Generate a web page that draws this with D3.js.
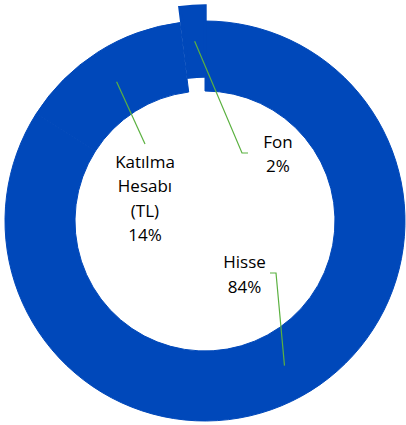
<!DOCTYPE html>
<html>
<head>
<meta charset="utf-8">
<script src="https://cdn.jsdelivr.net/npm/d3@7"></script>
<style>
  body { margin: 0; background: #fff; }
  .lbl { font-family: "Open Sans", sans-serif; font-size: 17px; fill: #000; }
  .leader { fill: none; stroke: #5BB140; stroke-width: 1.2; }
</style>
</head>
<body>
<script>
const width = 406, height = 425;
const cx = 205, cy = 221;
const outerR = 200, innerR = 130;

// order clockwise from 12 o'clock
const categories = ["Hisse", "Katılma Hesabı (TL)", "Fon"];
const values = [84, 14, 2];
const labelLines = [["Hisse", "84%"], ["Katılma", "Hesabı", "(TL)", "14%"], ["Fon", "2%"]];
const exploded = [0, 0, 15];

// label anchors and leader bends (layout, not data)
const labelAt = [{x: 244.5, y: 268}, {x: 145, y: 167.5}, {x: 278, y: 147.7}];
const leaderEnd = [[[276, 273], [270, 273]], [[145, 144]], [[242, 153], [248, 153]]];
const lineGap = 24.5;
const blue = "#0048BA";

const svg = d3.select("body").append("svg")
.attr("width", width)
.attr("height", height);

const pie = d3.pie()
.value((d) => d)
.sort(null);

const arc = d3.arc()
.innerRadius(innerR)
.outerRadius(outerR);

const arcs = pie(values);

const g = svg.append("g")
.attr("transform", `translate(${cx}, ${cy})`);

// Fon slice is pulled straight up, like in the original
function offset(d, i) {
    return [0, -exploded[i]];
}

g.selectAll(".slice")
.data(arcs)
.enter()
.append("path")
.attr("class", "slice")
.attr("d", arc)
.attr("fill", blue)
.attr("stroke", blue)
.attr("stroke-width", (d, i) => exploded[i] ? 3.4 : 1)
.attr("stroke-linejoin", "miter")
.attr("transform", (d, i) => `translate(${offset(d, i)})`);

const line = d3.line();

arcs.forEach((d, i) => {
    const [ox, oy] = offset(d, i);
    const c = arc.centroid(d);
    const pts = [[c[0] + ox + cx, c[1] + oy + cy]].concat(leaderEnd[i]);
    svg.append("path")
    .attr("class", "leader")
    .attr("d", line(pts));

    const t = svg.append("text")
    .attr("class", "lbl")
    .attr("text-anchor", "middle");
    labelLines[i].forEach((s, k) => {
        t.append("tspan")
        .attr("x", labelAt[i].x)
        .attr("y", labelAt[i].y + k * lineGap)
        .text(s);
    });
});
</script>
</body>
</html>
